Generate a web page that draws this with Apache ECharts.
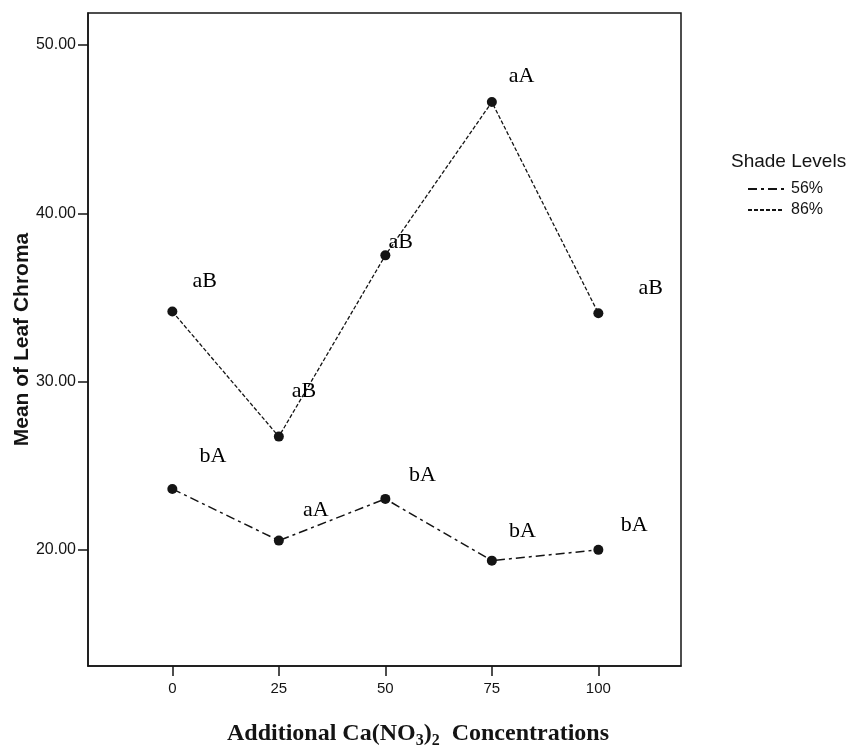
<!DOCTYPE html>
<html>
<head>
<meta charset="utf-8">
<script src="https://cdn.jsdelivr.net/npm/echarts@6/dist/echarts.min.js"></script>
<style>
html,body{margin:0;padding:0;background:#fff;}
#chart{width:851px;height:745px;}
</style>
</head>
<body>
<div id="chart"></div>
<script>
// Concentrations (x)
const concentrations = [0, 25, 50, 75, 100];
// Mean of leaf chroma
const shade56 = [23.62, 20.55, 23.03, 19.36, 20.00];
const shade86 = [34.16, 26.73, 37.50, 46.61, 34.06];
// Significance letters
const letters56 = ['bA', 'aA', 'bA', 'bA', 'bA'];
const letters86 = ['aB', 'aB', 'aB', 'aA', 'aB'];
// Letter anchor positions in data units
const letters56X = [9.5, 33.7, 58.7, 82.2, 108.4];
const letters56Y = [25.54, 22.38, 24.41, 21.09, 21.49];
const letters86X = [7.6, 30.9, 53.6, 82.0, 112.3];
const letters86Y = [35.98, 29.44, 38.29, 48.12, 35.53];
// Tick labels
const xTicks = [0, 25, 50, 75, 100];
const yTicks = [20, 30, 40, 50];

const pairs = (xs, ys) => xs.map((x, i) => [x, ys[i]]);
const labelPairs = (xs, ys, txt) => xs.map((x, i) => ({value: [x, ys[i]], name: txt[i]}));

const ink = '#141414';
const sans = 'Liberation Sans, Arial, sans-serif';
const serif = 'Liberation Serif, Times New Roman, serif';
const chart = echarts.init(document.getElementById('chart'));
chart.setOption({
  animation: false,
  backgroundColor: '#ffffff',
  title: {
    text: 'Shade Levels',
    left: 726, top: 147,
    textStyle: {fontFamily: sans, fontSize: 19, fontWeight: 'normal', color: ink}
  },
  legend: {
    data: ['56%', '86%'],
    orient: 'vertical',
    left: 747, top: 181,
    itemWidth: 36, itemHeight: 12, itemGap: 5,
    padding: 0,
    itemStyle: {color: 'rgba(0,0,0,0)', borderWidth: 0},
    textStyle: {fontFamily: sans, fontSize: 16, color: ink, padding: [0, 0, 0, 2]}
  },
  grid: {
    left: 88, right: 170, top: 13, bottom: 79,
    show: true, borderColor: ink, borderWidth: 1.5, backgroundColor: '#fff',
    containLabel: false, outerBoundsMode: 'none'
  },
  xAxis: {
    type: 'value', min: -19.8, max: 119.4,
    splitLine: {show: false},
    axisLine: {show: true, onZero: false, lineStyle: {color: ink, width: 1.5}},
    axisTick: {show: true, customValues: xTicks, length: 10, lineStyle: {color: ink, width: 1.5}},
    axisLabel: {customValues: xTicks, margin: 15, color: ink, fontSize: 15, fontFamily: sans},
    name: '{n|Additional Ca(NO}{s|3}{n|)}{s|2}{n|  Concentrations}',
    nameLocation: 'middle', nameGap: 53, nameMoveOverlap: false,
    nameTextStyle: {
      padding: [0, 0, 0, 67],
      rich: {
        n: {fontFamily: serif, fontWeight: 'bold', fontSize: 24, color: ink, lineHeight: 30, verticalAlign: 'middle'},
        s: {fontFamily: serif, fontWeight: 'bold', fontSize: 16, color: ink, lineHeight: 14, verticalAlign: 'bottom'}
      }
    }
  },
  yAxis: {
    type: 'value', min: 13.1, max: 51.9,
    splitLine: {show: false},
    axisLine: {show: true, onZero: false, lineStyle: {color: ink, width: 1.5}},
    axisTick: {show: true, customValues: yTicks, length: 10, lineStyle: {color: ink, width: 1.5}},
    axisLabel: {customValues: yTicks, margin: 12, color: ink, fontSize: 16, fontFamily: sans,
      formatter: v => v.toFixed(2)},
    name: 'Mean of Leaf Chroma',
    nameLocation: 'middle', nameGap: 55, nameMoveOverlap: false,
    nameTextStyle: {fontFamily: sans, fontWeight: 'bold', fontSize: 21, color: ink}
  },
  series: [
    {
      name: '56%', type: 'line',
      data: pairs(concentrations, shade56),
      symbol: 'circle', symbolSize: 10,
      itemStyle: {color: ink},
      lineStyle: {color: ink, width: 1.5, type: [9, 4, 3, 4]}
    },
    {
      name: '86%', type: 'line',
      data: pairs(concentrations, shade86),
      symbol: 'circle', symbolSize: 10,
      itemStyle: {color: ink},
      lineStyle: {color: ink, width: 1.3, type: [4, 2]}
    },
    {
      name: 'letters56', type: 'scatter',
      data: labelPairs(letters56X, letters56Y, letters56),
      symbolSize: 1, silent: true,
      itemStyle: {color: 'rgba(0,0,0,0)', opacity: 1},
      label: {show: true, position: 'inside', formatter: p => p.name, opacity: 1,
        fontFamily: serif, fontSize: 22, color: '#000'}
    },
    {
      name: 'letters86', type: 'scatter',
      data: labelPairs(letters86X, letters86Y, letters86),
      symbolSize: 1, silent: true,
      itemStyle: {color: 'rgba(0,0,0,0)', opacity: 1},
      label: {show: true, position: 'inside', formatter: p => p.name, opacity: 1,
        fontFamily: serif, fontSize: 22, color: '#000'}
    }
  ]
});
</script>
</body>
</html>
